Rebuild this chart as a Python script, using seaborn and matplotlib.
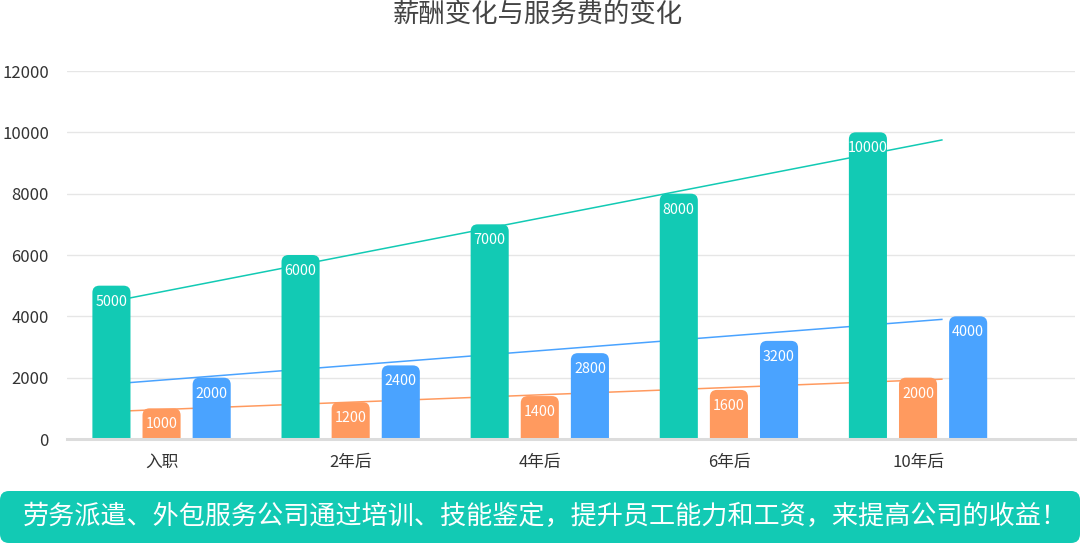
import numpy as np
import pandas as pd
import matplotlib
matplotlib.use("Agg")
import matplotlib.pyplot as plt
import seaborn as sns
from matplotlib.patches import FancyBboxPatch

# ---------------- data ----------------
categories = ["入职", "2年后", "4年后", "6年后", "10年后"]
series_names = ["系列一", "系列二", "系列三"]
salary = [5000, 6000, 7000, 8000, 10000]
fee_orange = [1000, 1200, 1400, 1600, 2000]
fee_blue = [2000, 2400, 2800, 3200, 4000]
y_ticks = [0, 2000, 4000, 6000, 8000, 10000, 12000]
title_text = "薪酬变化与服务费的变化"
banner_text = "劳务派遣、外包服务公司通过培训、技能鉴定，提升员工能力和工资，来提高公司的收益！"

# ---------------- style ----------------
colors = ["#12CAB4", "#FF9A5F", "#4AA3FF"]
sns.set_theme(style="white")
plt.rcParams["font.family"] = ["Noto Sans CJK SC", "DejaVu Sans"]

W, H, DPI = 1080, 543, 100
fig = plt.figure(figsize=(W / DPI, H / DPI), dpi=DPI)
ax = fig.add_axes([67 / W, 1 - 439 / H, (1075 - 67) / W, (439 - 71) / H])

df = pd.DataFrame({
    "cat": categories * 3,
    "value": salary + fee_orange + fee_blue,
    "series": [series_names[0]] * 5 + [series_names[1]] * 5 + [series_names[2]] * 5,
})

sns.barplot(data=df, x="cat", y="value", hue="series", order=categories,
            hue_order=series_names, palette=colors, width=0.795, gap=0.24,
            saturation=1, legend=False, errorbar=None, ax=ax)

ax.set_ylim(0, 12000)
ax.set_xlim(-0.5, 4.83)
fig.canvas.draw()

# px per data unit
p0 = ax.transData.transform((0, 0))
p1 = ax.transData.transform((1, 1000))
px_x = p1[0] - p0[0]
px_y = (p1[1] - p0[1]) / 1000
radius_px = 7
r_x = radius_px / px_x
r_y = radius_px / px_y

# replace bars with rounded-top bars
bars = list(ax.patches)
for p in bars:
    x, w, h = p.get_x(), p.get_width(), p.get_height()
    fc = p.get_facecolor()
    p.remove()
    extra = 2 * r_y
    fb = FancyBboxPatch((x, -extra), w, h + extra,
                        boxstyle=f"round,pad=0,rounding_size={r_x}",
                        mutation_aspect=r_y / r_x, facecolor=fc,
                        edgecolor="none", zorder=3, clip_on=True)
    ax.add_patch(fb)
    ax.annotate(f"{int(round(h))}", (x + w / 2, h), xytext=(0, -11.5),
                textcoords="offset points", ha="center", va="center",
                color="white", fontsize=10.3, zorder=4)

# trend lines (linear fit against category index), drawn behind bars
idx = np.arange(len(categories))
x_line = np.array([-0.27, 4.13])
for vals, col in zip([salary, fee_orange, fee_blue], colors):
    k, b = np.polyfit(idx, vals, 1)
    ax.plot(x_line, k * x_line + b, color=col, lw=1.1, zorder=2,
            solid_capstyle="butt")

# axes styling
ax.set_yticks(y_ticks)
ax.set_yticklabels([str(v) for v in y_ticks])
ax.yaxis.grid(True, color="#E6E6E6", lw=1)
ax.set_axisbelow(True)
for s in ["top", "right", "left"]:
    ax.spines[s].set_visible(False)
ax.spines["bottom"].set_color("#DCDCDC")
ax.spines["bottom"].set_linewidth(2.2)
ax.spines["bottom"].set_zorder(5)
ax.tick_params(axis="y", length=0, pad=13, labelsize=12, labelcolor="#333333")
ax.tick_params(axis="x", length=0, pad=11, labelsize=12, labelcolor="#333333")
ax.set_xlabel("")
ax.set_ylabel("")

# title
fig.text(0.498, 1 - 15 / H, title_text, ha="center", va="center",
         fontsize=19, color="#444444")

# bottom banner
bax = fig.add_axes([0, 0, 1, 52 / H])
bax.set_xlim(0, W)
bax.set_ylim(0, 52)
bax.axis("off")
bax.add_patch(FancyBboxPatch((0, 0), W, 52, boxstyle="round,pad=0,rounding_size=9",
                             facecolor="#12CAB4", edgecolor="none"))
bax.text(545, 26, banner_text, ha="center", va="center", color="white",
         fontsize=18.8)

fig.savefig("out.png", dpi=DPI)
